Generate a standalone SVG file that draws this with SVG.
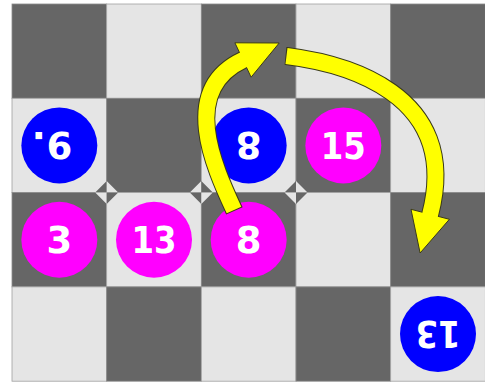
<svg xmlns="http://www.w3.org/2000/svg" xmlns:xlink="http://www.w3.org/1999/xlink" width="485" height="388" viewBox="0 0 485 388">
<style>
.d{fill:#666666;stroke:#8c8c8c;stroke-width:0.8}
.l{fill:#e5e5e5;stroke:#a0a0a0;stroke-width:0.8}
.td{fill:#666666}
.tl{fill:#e5e5e5}
.blue{fill:#0000ff}
.mag{fill:#ff00ff}
.num{fill:#ffffff;font-family:"DejaVu Sans","Liberation Sans",sans-serif;font-weight:bold;font-size:37px;text-anchor:middle}
.out{fill:none;stroke:#3a3a1a;stroke-width:18}
.shaft{fill:none;stroke:#ffff00;stroke-width:16}
.head{fill:#ffff00;stroke:#3a3a1a;stroke-width:1;stroke-linejoin:miter}
</style>
<defs>
<g id="diaA">
<polygon class="td" points="0,0 -11.5,0 0,-11.5"/>
<polygon class="tl" points="0,0 11.5,0 0,-11.5"/>
<polygon class="tl" points="0,0 -11.5,0 0,11.5"/>
<polygon class="td" points="0,0 11.5,0 0,11.5"/>
</g>
<g id="diaB">
<polygon class="tl" points="0,0 -11.5,0 0,-11.5"/>
<polygon class="td" points="0,0 11.5,0 0,-11.5"/>
<polygon class="td" points="0,0 -11.5,0 0,11.5"/>
<polygon class="tl" points="0,0 11.5,0 0,11.5"/>
</g>
</defs>
<rect width="485" height="388" fill="#ffffff"/>
<g id="board">
<rect class="d" x="12" y="4" width="94.67" height="94.3"/>
<rect class="l" x="106.67" y="4" width="94.67" height="94.3"/>
<rect class="d" x="201.33" y="4" width="94.67" height="94.3"/>
<rect class="l" x="296" y="4" width="94.67" height="94.3"/>
<rect class="d" x="390.67" y="4" width="94.67" height="94.3"/>
<rect class="l" x="12" y="98.3" width="94.67" height="94.3"/>
<rect class="d" x="106.67" y="98.3" width="94.67" height="94.3"/>
<rect class="l" x="201.33" y="98.3" width="94.67" height="94.3"/>
<rect class="d" x="296" y="98.3" width="94.67" height="94.3"/>
<rect class="l" x="390.67" y="98.3" width="94.67" height="94.3"/>
<rect class="d" x="12" y="192.6" width="94.67" height="94.3"/>
<rect class="l" x="106.67" y="192.6" width="94.67" height="94.3"/>
<rect class="d" x="201.33" y="192.6" width="94.67" height="94.3"/>
<rect class="l" x="296" y="192.6" width="94.67" height="94.3"/>
<rect class="d" x="390.67" y="192.6" width="94.67" height="94.3"/>
<rect class="l" x="12" y="286.9" width="94.67" height="94.3"/>
<rect class="d" x="106.67" y="286.9" width="94.67" height="94.3"/>
<rect class="l" x="201.33" y="286.9" width="94.67" height="94.3"/>
<rect class="d" x="296" y="286.9" width="94.67" height="94.3"/>
<rect class="l" x="390.67" y="286.9" width="94.67" height="94.3"/>
</g>
<g id="marks">
<use xlink:href="#diaA" href="#diaA" x="106.67" y="192.6"/>
<use xlink:href="#diaB" href="#diaB" x="201.33" y="192.6"/>
<use xlink:href="#diaA" href="#diaA" x="296" y="192.6"/>
</g>
<g id="piece-blue-9">
<circle class="blue" cx="59.33" cy="145.45" r="38"/>
<text class="num" x="59.33" y="158.8" transform="rotate(180 59.33 145.45)"><tspan x="59.33">9</tspan><tspan x="80">.</tspan></text>
</g>
<g id="piece-blue-8">
<circle class="blue" cx="248.67" cy="145.45" r="38"/>
<text class="num" x="248.67" y="158.8" transform="rotate(180 248.67 145.45)">8</text>
</g>
<g id="piece-mag-15">
<circle class="mag" cx="343.33" cy="145.45" r="38"/>
<text class="num" x="343.33" y="158.8" textLength="45" lengthAdjust="spacingAndGlyphs">15</text>
</g>
<g id="piece-mag-3">
<circle class="mag" cx="59.33" cy="239.75" r="38"/>
<text class="num" x="59.33" y="253.1">3</text>
</g>
<g id="piece-mag-13">
<circle class="mag" cx="154" cy="239.75" r="38"/>
<text class="num" x="154" y="253.1" textLength="45" lengthAdjust="spacingAndGlyphs">13</text>
</g>
<g id="piece-mag-8">
<circle class="mag" cx="248.67" cy="239.75" r="38"/>
<text class="num" x="248.67" y="253.1">8</text>
</g>
<g id="piece-blue-13">
<circle class="blue" cx="438" cy="334.05" r="38"/>
<text class="num" x="438" y="347.4" textLength="45" lengthAdjust="spacingAndGlyphs" transform="rotate(180 438 334.05)">13</text>
</g>
<g id="connectors">
<path class="out" d="M234.4,210.9 L234,210 C213.9,166.5 179,90.1 243,60"/>
<polygon class="head" points="234.9,42.8 279.2,43 251.1,77.2"/>
<path class="shaft" d="M234,210 C213.9,166.5 179,90.1 243,60 L244.6,59.2"/>
<path class="out" d="M285.5,55.9 L286.5,56 C342,63 462,92 430.2,214.3"/>
<polygon class="head" points="411,209.3 449.4,219.3 420.1,253"/>
<path class="shaft" d="M286.5,56 C342,63 462,92 430.2,214.3 L429.8,216"/>
</g>
</svg>
